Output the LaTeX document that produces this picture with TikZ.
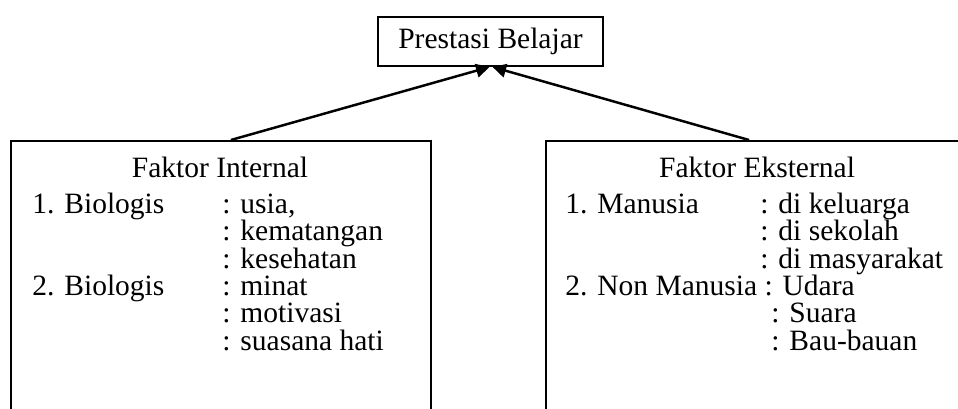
\documentclass[tikz,border=0pt]{standalone}
\usepackage{fontspec}
\setmainfont{Liberation Serif}
\usetikzlibrary{positioning,arrows.meta}

\begin{document}
\begin{tikzpicture}[
			x=0.444pt,
			y=-0.444pt,
			every node/.style={
					font=\fontsize{13.1}{15}\selectfont
				},
			box/.style={
					draw,
					line width=0.8pt,
					inner sep=0pt
				},
			txt/.style={
					inner sep=0pt,
					anchor=base west
				},
			> ={Triangle[length=6pt,width=6pt]}
		]

		\useasboundingbox (0,0) rectangle (958,408);

		\node (prestasi) [box,
			minimum width=100pt,
			minimum height=21.8pt] at (490.5,41.5)
		{Prestasi Belajar};

		\node (internal) [box, anchor=north west,
			minimum width=186.5pt,
			minimum height=140pt] at (10,140) {};

		\node (eksternal) [box, anchor=north west,
			minimum width=192pt,
			minimum height=140pt] at (545,140) {};

		% faktor internal
		\node (judulin) [inner sep=0pt, anchor=base] at (220,177) {Faktor Internal};
		\node (bio1) [txt] at (32,213) {1. Biologis};
		\node (bio2) [txt] at (32,295) {2. Biologis};
		\node (usia) [txt] at (222,213) {: usia,};
		\node (matang) [txt] at (222,240.5) {: kematangan};
		\node (sehat) [txt] at (222,268) {: kesehatan};
		\node (minat) [txt] at (222,295) {: minat};
		\node (motiv) [txt] at (222,322.5) {: motivasi};
		\node (hati) [txt] at (222,350) {: suasana hati};

		% faktor eksternal
		\node (juduleks) [inner sep=0pt, anchor=base] at (757,177) {Faktor Eksternal};
		\node (man1) [txt] at (565,213) {1. Manusia};
		\node (man2) [txt] at (565,295) {2. Non Manusia : Udara};
		\node (keluarga) [txt] at (760,213) {: di keluarga};
		\node (sekolah) [txt] at (760,240.5) {: di sekolah};
		\node (masy) [txt] at (760,268) {: di masyarakat};
		\node (suara) [txt] at (771,322.5) {: Suara};
		\node (bau) [txt] at (771,350) {: Bau-bauan};

		\draw[->,line width=1.1pt] ([xshift=4.4pt]internal.north) -- ([xshift=-0.4pt]prestasi.south);
		\draw[->,line width=1.1pt] ([xshift=-5.8pt]eksternal.north) -- ([xshift=0.9pt]prestasi.south);

	\end{tikzpicture}
\end{document}
